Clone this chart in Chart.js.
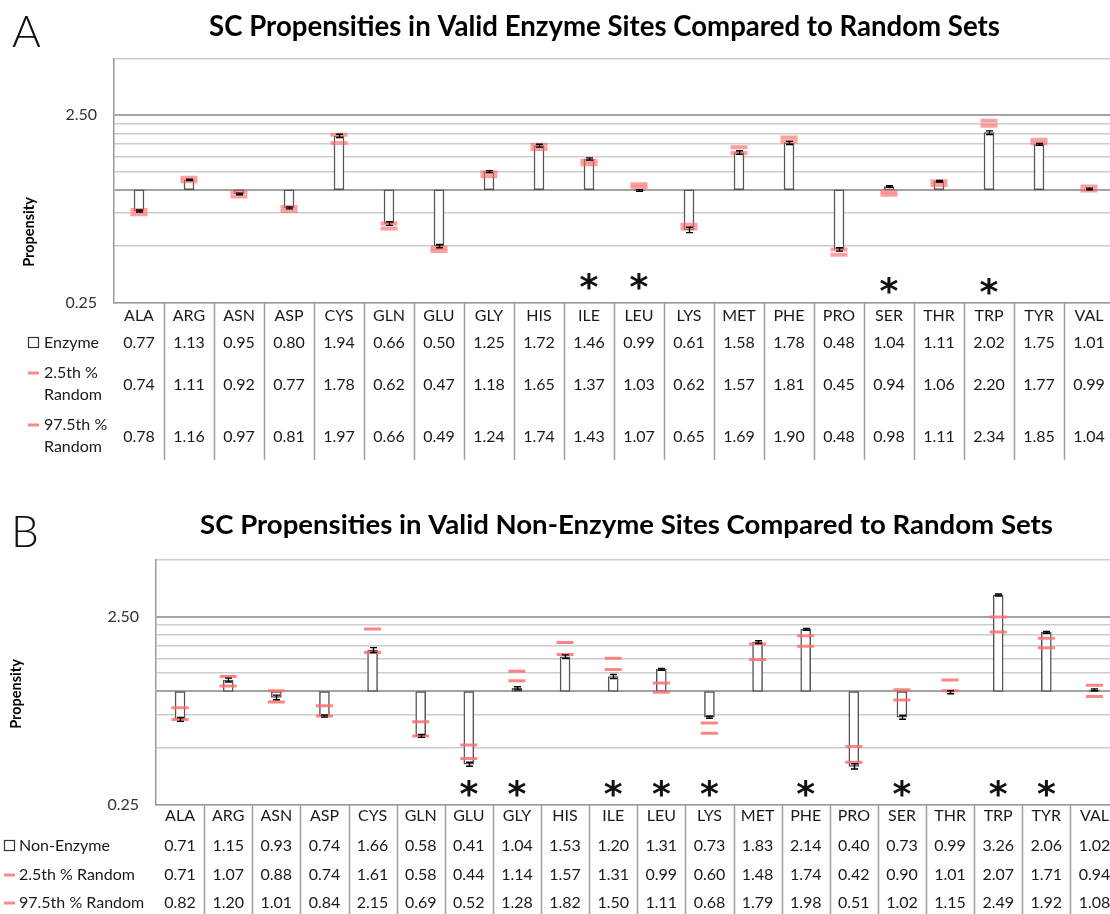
<!DOCTYPE html>
<html>
<head>
<meta charset="utf-8">
<script src="https://cdn.jsdelivr.net/npm/chart.js@4.4.1/dist/chart.umd.min.js"></script>
<style>
  html, body { margin: 0; padding: 0; background: #fff; overflow: hidden; width: 1110px; height: 914px; }
  .panel { position: absolute; left: 0; }
  canvas { display: block; }
</style>
</head>
<body>
<div class="panel" style="top:0"><canvas id="chartA" width="1130" height="460"></canvas></div>
<div class="panel" style="top:460px"><canvas id="chartB" width="1130" height="454"></canvas></div>
<script>
// ---- data -------------------------------------------------------------
const residues = ['ALA','ARG','ASN','ASP','CYS','GLN','GLU','GLY','HIS','ILE',
                  'LEU','LYS','MET','PHE','PRO','SER','THR','TRP','TYR','VAL'];

// Panel A: enzyme sites
const enzyme     = [0.77,1.13,0.95,0.80,1.94,0.66,0.50,1.25,1.72,1.46,0.99,0.61,1.58,1.78,0.48,1.04,1.11,2.02,1.75,1.01];
const enzymeLow  = [0.74,1.11,0.92,0.77,1.78,0.62,0.47,1.18,1.65,1.37,1.03,0.62,1.57,1.81,0.45,0.94,1.06,2.20,1.77,0.99];
const enzymeHigh = [0.78,1.16,0.97,0.81,1.97,0.66,0.49,1.24,1.74,1.43,1.07,0.65,1.69,1.90,0.48,0.98,1.11,2.34,1.85,1.04];
const enzymeErr  = [0.01,0.01,0.01,0.01,0.04,0.015,0.01,0.015,0.03,0.02,0.01,0.02,0.035,0.035,0.01,0.01,0.01,0.045,0.02,0.01];
const enzymeSignificant = ['ILE','LEU','SER','TRP'];

// Panel B: non-enzyme sites
const nonEnzyme     = [0.71,1.15,0.93,0.74,1.66,0.58,0.41,1.04,1.53,1.20,1.31,0.73,1.83,2.14,0.40,0.73,0.99,3.26,2.06,1.02];
const nonEnzymeLow  = [0.71,1.07,0.88,0.74,1.61,0.58,0.44,1.14,1.57,1.31,0.99,0.60,1.48,1.74,0.42,0.90,1.01,2.07,1.71,0.94];
const nonEnzymeHigh = [0.82,1.20,1.01,0.84,2.15,0.69,0.52,1.28,1.82,1.50,1.11,0.68,1.79,1.98,0.51,1.02,1.15,2.49,1.92,1.08];
const nonEnzymeErr  = [0.017,0.028,0.026,0.01,0.05,0.01,0.01,0.02,0.035,0.03,0.015,0.01,0.03,0.025,0.013,0.018,0.018,0.04,0.025,0.012];
const nonEnzymeSignificant = ['GLU','GLY','ILE','LEU','LYS','PHE','SER','TRP','TYR'];

// log-axis gridlines and labelled ticks
const gridValues = [0.25,0.5,0.75,1.0,1.25,1.5,1.75,2.0,2.25,2.5];
const tickLabels = {0.25: '0.25', 2.5: '2.50'};
const axisMin = 0.25, axisMax = 5;

// ---- layout / styling per panel ---------------------------------------
const panels = [
  {
    canvas: 'chartA', letter: 'A',
    title: 'SC Propensities in Valid Enzyme Sites Compared to Random Sets',
    values: enzyme, low: enzymeLow, high: enzymeHigh, err: enzymeErr, significant: enzymeSignificant,
    rowLabels: [['Enzyme'], ['2.5th %', 'Random'], ['97.5th %', 'Random']],
    box: { left: 114, top: 59, bottom: 302.4, right: 1114 },
    titleX: 604.5, titleY: 27, titleW: 791,
    letterX: 12, letterY: 33,
    yTitleX: 29, yTitleY: 232,
    tickPad: 17,
    headerY: 316, rowY: [343, 385, 437], labelY: [[343], [373, 395], [425, 447]],
    tableBottom: 460, keyX: 28, textX: 44,
    starY: 283, starShift: { SER: 4, TRP: 5 },
    dashWidth: 4, dashColor: 'rgba(255,96,96,0.6)', dashRadius: 8.5
  },
  {
    canvas: 'chartB', letter: 'B',
    title: 'SC Propensities in Valid Non-Enzyme Sites Compared to Random Sets',
    values: nonEnzyme, low: nonEnzymeLow, high: nonEnzymeHigh, err: nonEnzymeErr, significant: nonEnzymeSignificant,
    rowLabels: [['Non-Enzyme'], ['2.5th % Random'], ['97.5th % Random']],
    box: { left: 156, top: 100, bottom: 344.7, right: 1120 },
    titleX: 626.5, titleY: 65, titleW: 853,
    letterX: 11, letterY: 73,
    yTitleX: 16.5, yTitleY: 234,
    tickPad: 17,
    headerY: 356, rowY: [386, 415, 443], labelY: [[386], [415], [443]],
    tableBottom: 454, keyX: 4, textX: 19,
    starY: 330, starShift: {},
    dashWidth: 3, dashColor: 'rgba(255,110,110,0.85)', dashRadius: 8.5
  }
];

const FONT = 'Lato, "Open Sans", "DejaVu Sans", sans-serif';

function fitFont(ctx, text, weight, target) {
  ctx.font = weight + ' 24px ' + FONT;
  const w = ctx.measureText(text).width;
  return weight + ' ' + (24 * target / w).toFixed(2) + 'px ' + FONT;
}

// error bars, table, legend keys, titles and significance marks
function makeExtras(p) {
  return {
    id: 'panelExtras',
    afterDatasetsDraw(chart) {
      const ctx = chart.ctx, xs = chart.scales.x, ys = chart.scales.y;
      ctx.save();
      ctx.strokeStyle = '#000';
      ctx.lineWidth = 1.4;
      p.values.forEach((v, i) => {
        const e = p.err[i];
        const cx = Math.round(xs.getPixelForValue(i)) + 0.5;
        const y1 = ys.getPixelForValue(v - e), y2 = ys.getPixelForValue(v + e);
        ctx.beginPath();
        ctx.moveTo(cx, y1); ctx.lineTo(cx, y2);
        ctx.moveTo(cx - 3.5, y1); ctx.lineTo(cx + 3.5, y1);
        ctx.moveTo(cx - 3.5, y2); ctx.lineTo(cx + 3.5, y2);
        ctx.stroke();
      });
      ctx.restore();
    },
    afterDraw(chart) {
      const ctx = chart.ctx, xs = chart.scales.x, area = chart.chartArea;
      const colW = xs.getPixelForValue(1) - xs.getPixelForValue(0);
      ctx.save();

      // panel letter
      ctx.fillStyle = '#111';
      ctx.textAlign = 'left';
      ctx.textBaseline = 'middle';
      ctx.font = '300 44px ' + FONT;
      ctx.fillText(p.letter, p.letterX, p.letterY);

      // chart title
      ctx.textAlign = 'center';
      ctx.font = fitFont(ctx, p.title, 'bold', p.titleW);
      ctx.fillStyle = '#000';
      ctx.fillText(p.title, p.titleX, p.titleY);

      // y axis title
      ctx.save();
      ctx.translate(p.yTitleX, p.yTitleY);
      ctx.rotate(-Math.PI / 2);
      ctx.font = 'bold 14.5px ' + FONT;
      ctx.fillText('Propensity', 0, 0);
      ctx.restore();

      // significance marks
      ctx.font = 'bold 36px "DejaVu Sans", sans-serif';
      ctx.fillStyle = '#111';
      p.significant.forEach(name => {
        const i = residues.indexOf(name);
        ctx.fillText('*', xs.getPixelForValue(i), p.starY + 7 + (p.starShift[name] || 0));
      });

      // data table: column separators
      ctx.strokeStyle = '#a0a0a0';
      ctx.lineWidth = 1.5;
      ctx.beginPath();
      for (let i = 1; i <= residues.length; i++) {
        const bx = Math.round(xs.getPixelForValue(i) - colW / 2) + 0.5;
        ctx.moveTo(bx, area.bottom);
        ctx.lineTo(bx, p.tableBottom);
      }
      ctx.stroke();

      // header and values
      ctx.font = '16px ' + FONT;
      ctx.fillStyle = '#1a1a1a';
      ctx.textAlign = 'center';
      residues.forEach((r, i) => {
        const cx = xs.getPixelForValue(i);
        ctx.fillText(r, cx, p.headerY);
        ctx.fillText(p.values[i].toFixed(2), cx, p.rowY[0]);
        ctx.fillText(p.low[i].toFixed(2), cx, p.rowY[1]);
        ctx.fillText(p.high[i].toFixed(2), cx, p.rowY[2]);
      });

      // legend keys and row labels
      ctx.textAlign = 'left';
      p.rowLabels.forEach((lines, r) => {
        const ky = p.labelY[r][0];
        if (r === 0) {
          ctx.strokeStyle = '#333';
          ctx.lineWidth = 1.2;
          ctx.strokeRect(p.keyX + 0.5, ky - 5.5, 10, 10);
        } else {
          ctx.fillStyle = '#ff8a8a';
          ctx.fillRect(p.keyX, ky - 1.5, 11, 3);
        }
        ctx.fillStyle = '#1a1a1a';
        lines.forEach((t, k) => ctx.fillText(t, p.textX, p.labelY[r][k]));
      });
      ctx.restore();
    }
  };
}

function buildChart(p) {
  const canvas = document.getElementById(p.canvas);
  const W = canvas.width, H = canvas.height;
  new Chart(canvas, {
    data: {
      labels: residues,
      datasets: [
        {
          type: 'line', label: '2.5th % Random', data: p.low, order: 1,
          showLine: false, pointStyle: 'line', pointRadius: p.dashRadius,
          pointBorderWidth: p.dashWidth, pointBorderColor: p.dashColor, borderColor: p.dashColor
        },
        {
          type: 'line', label: '97.5th % Random', data: p.high, order: 1,
          showLine: false, pointStyle: 'line', pointRadius: p.dashRadius,
          pointBorderWidth: p.dashWidth, pointBorderColor: p.dashColor, borderColor: p.dashColor
        },
        {
          type: 'bar', label: p.rowLabels[0][0], order: 2,
          data: p.values.map(v => [1, v]),
          backgroundColor: '#ffffff', borderColor: '#555555', borderWidth: 1.5,
          borderSkipped: false, barThickness: 10
        }
      ]
    },
    options: {
      responsive: false, animation: false, devicePixelRatio: 1,
      layout: { padding: { left: 0, top: p.box.top, right: W - p.box.right, bottom: 0 } },
      plugins: { legend: { display: false }, tooltip: { enabled: false }, title: { display: false } },
      scales: {
        x: {
          type: 'category', offset: true,
          grid: { display: false },
          border: { display: true, color: '#9a9a9a', width: 1.5 },
          ticks: { display: false },
          afterFit: s => { s.height = H - p.box.bottom; }
        },
        y: {
          type: 'logarithmic', min: axisMin, max: axisMax,
          afterBuildTicks: s => { s.ticks = gridValues.concat([axisMax]).map(v => ({ value: v })); },
          afterFit: s => { s.width = p.box.left; },
          border: { display: true, color: '#9a9a9a', width: 1.5 },
          grid: {
            drawTicks: false,
            color: c => (c.tick && (c.tick.value === 1 || c.tick.value === 2.5)) ? '#a3a3a3' : '#cdcdcd',
            lineWidth: c => (c.tick && (c.tick.value === 1 || c.tick.value === 2.5)) ? 2 : 1.6
          },
          ticks: {
            autoSkip: false, padding: p.tickPad, color: '#333',
            font: { family: FONT, size: 16 },
            callback: v => tickLabels[v] || ''
          }
        }
      }
    },
    plugins: [makeExtras(p)]
  });
}

panels.forEach(buildChart);
</script>
</body>
</html>
